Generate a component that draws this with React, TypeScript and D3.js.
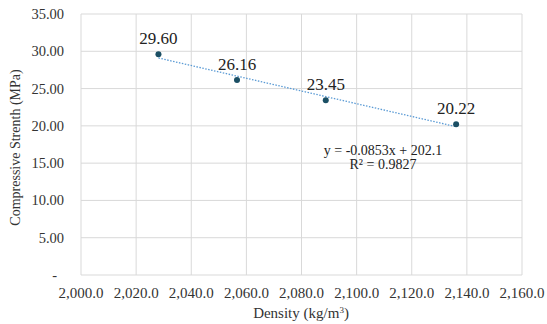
import React from 'react';
import * as d3 from 'd3';

const densities = [2028.1, 2056.6, 2088.8, 2136.1];
const strengths = [29.6, 26.16, 23.45, 20.22];
const xTicks = [2000, 2020, 2040, 2060, 2080, 2100, 2120, 2140, 2160];
const yTicks = [0, 5, 10, 15, 20, 25, 30, 35];
const slope = -0.0853;
const intercept = 202.1;
const equationLines = ['y = -0.0853x + 202.1', 'R² = 0.9827'];

const width = 547;
const height = 324;
const margin = { top: 14, right: 25, bottom: 49, left: 81 };

export default function App() {
  const x = d3
    .scaleLinear()
    .domain([2000, 2160])
    .range([margin.left, width - margin.right]);
  const y = d3
    .scaleLinear()
    .domain([0, 35])
    .range([height - margin.bottom, margin.top]);

  const fmtX = d3.format(',.1f');
  const fmtY = (v: number) => (v === 0 ? '-' : d3.format('.2f')(v));

  const x0 = d3.min(densities) as number;
  const x1 = d3.max(densities) as number;
  const trend = d3
    .line<number>()
    .x((d) => x(d))
    .y((d) => y(slope * d + intercept));

  const textColor = '#333';

  return (
    <svg
      width={width}
      height={height}
      style={{
        position: 'absolute',
        left: 0,
        top: 0,
        background: '#fff',
        fontFamily: "'Liberation Serif', 'DejaVu Serif', serif",
      }}
    >
      {/* grid */}
      <g stroke="#d9d9d9" strokeWidth={1}>
        {xTicks.map((t) => (
          <line key={'gx' + t} x1={x(t)} x2={x(t)} y1={y(35)} y2={y(0)} />
        ))}
        {yTicks.map((t) => (
          <line key={'gy' + t} x1={x(2000)} x2={x(2160)} y1={y(t)} y2={y(t)} />
        ))}
      </g>

      {/* y tick labels */}
      <g fill={textColor} fontSize={14.5} textAnchor="end">
        {yTicks.map((t) => (
          <text key={'ly' + t} x={t === 0 ? 57 : 64} y={y(t) + 5}>
            {fmtY(t)}
          </text>
        ))}
      </g>

      {/* x tick labels */}
      <g fill={textColor} fontSize={15} textAnchor="middle">
        {xTicks.map((t) => (
          <text key={'lx' + t} x={x(t)} y={298}>
            {fmtX(t)}
          </text>
        ))}
      </g>

      {/* axis titles */}
      <text x={301} y={318} textAnchor="middle" fontSize={15} fill={textColor}>
        Density (kg/m<tspan dy={-5} fontSize={9}>3</tspan>
        <tspan dy={5}>)</tspan>
      </text>
      <text
        transform={`translate(20,${(y(0) + y(35)) / 2 + 3}) rotate(-90)`}
        textAnchor="middle"
        fontSize={14}
        fill={textColor}
      >
        Compressive Strenth (MPa)
      </text>

      {/* trendline */}
      <path
        d={trend([x0, x1]) as string}
        fill="none"
        stroke="#5b9bd5"
        strokeWidth={1.3}
        strokeDasharray="1.5,1.5"
      />

      {/* points */}
      {densities.map((d, i) => (
        <circle key={'p' + i} cx={x(d)} cy={y(strengths[i])} r={3} fill="#1b4f64" />
      ))}

      {/* data labels */}
      <g fill="#222" fontSize={17} textAnchor="middle">
        {densities.map((d, i) => (
          <text key={'dl' + i} x={x(d)} y={y(strengths[i]) - 10}>
            {d3.format('.2f')(strengths[i])}
          </text>
        ))}
      </g>

      {/* equation */}
      <g fill="#222" fontSize={14} textAnchor="middle">
        {equationLines.map((l, i) => (
          <text key={'eq' + i} x={383} y={155 + i * 14}>
            {l}
          </text>
        ))}
      </g>
    </svg>
  );
}
